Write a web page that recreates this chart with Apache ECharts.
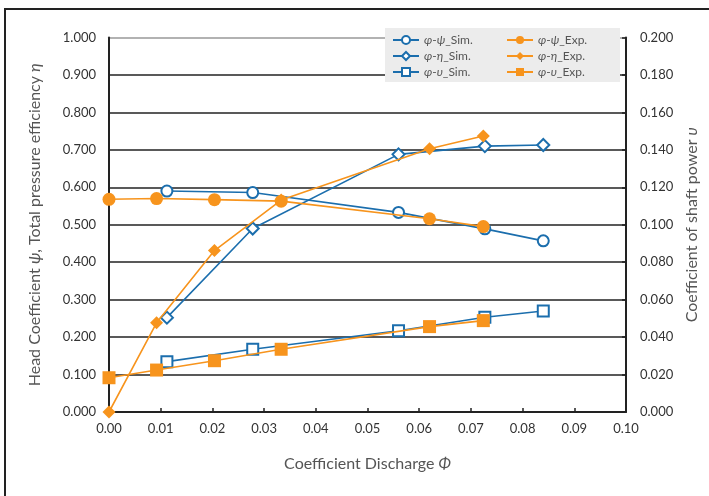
<!DOCTYPE html>
<html>
<head>
<meta charset="utf-8">
<script src="https://cdn.jsdelivr.net/npm/echarts@6/dist/echarts.min.js"></script>
<style>html,body{margin:0;padding:0;background:#fff}#c{width:709px;height:496px}</style>
</head>
<body>
<div id="c"></div>
<script>
// Simulation data
const simPhi = [0.0112, 0.0278, 0.0560, 0.0727, 0.0840];
const simPsi = [0.590, 0.586, 0.533, 0.489, 0.457];
const simEta = [0.252, 0.490, 0.688, 0.710, 0.713];
const simUps = [0.0269, 0.0335, 0.0434, 0.0506, 0.0539];
// Experimental data
const expPhi = [0.0000, 0.0092, 0.0204, 0.0333, 0.0620, 0.0724];
const expPsi = [0.568, 0.570, 0.567, 0.563, 0.516, 0.495];
const expEta = [0.000, 0.238, 0.431, 0.566, 0.703, 0.737];
const expUps = [0.0183, 0.0224, 0.0274, 0.0335, 0.0456, 0.0488];
// Names
const simNames = ['φ-ψ_Sim.', 'φ-η_Sim.', 'φ-υ_Sim.'];
const expNames = ['φ-ψ_Exp.', 'φ-η_Exp.', 'φ-υ_Exp.'];
const xTitle = '{n|Coefficient Discharge }{i|Φ}';
const yLeftTitle = '{n|Head Coefficient }{i|ψ}{n|, Total pressure efficiency }{i|η}';
const yRightTitle = '{n|Coefficient of shaft power }{i|υ}';

const BLUE = '#1b6ead';
const ORANGE = '#f7941d';
const FONT = 'Lato, "Noto Sans", "DejaVu Sans", sans-serif';

function pairs(xs, ys) { return xs.map((x, i) => [x, ys[i]]); }

function simSeries(name, xs, ys, sym, yIdx) {
  return {
    name, type: 'line', yAxisIndex: yIdx, data: pairs(xs, ys),
    symbol: sym, symbolSize: sym === 'emptyDiamond' ? 12 : 11,
    lineStyle: { color: BLUE, width: 1.6 },
    itemStyle: { color: BLUE, borderColor: BLUE, borderWidth: 1.6 },
    z: 3
  };
}
function expSeries(name, xs, ys, sym, yIdx) {
  return {
    name, type: 'line', yAxisIndex: yIdx, data: pairs(xs, ys),
    symbol: sym, symbolSize: 13,
    lineStyle: { color: ORANGE, width: 1.6 },
    itemStyle: { color: ORANGE, borderColor: ORANGE, borderWidth: 0 },
    z: 4
  };
}

const titleStyle = {
  color: '#555', fontSize: 16, fontFamily: FONT,
  rich: {
    n: { color: '#555', fontSize: 16, fontFamily: FONT },
    i: { color: '#555', fontSize: 16, fontFamily: FONT, fontStyle: 'italic' }
  }
};

function legendFmt(n) {
  const p = n.split('_');
  const g = p[0].split('-');
  return '{i|' + g[0] + '}{n|-}{i|' + g[1] + '}{n|_' + p[1] + '}';
}
function makeLegend(left, names) {
  return {
    orient: 'vertical', left: left, top: 34, padding: 0, itemGap: 4, z: 10,
    itemWidth: 26, itemHeight: 10, data: names,
    textStyle: {
      color: '#555', fontSize: 12, fontFamily: FONT,
      rich: {
        n: { color: '#555', fontSize: 12, fontFamily: FONT },
        i: { color: '#555', fontSize: 12, fontFamily: FONT, fontStyle: 'italic' }
      }
    },
    formatter: legendFmt
  };
}

const chart = echarts.init(document.getElementById('c'), null, { renderer: 'canvas' });
const gridColors = ['#222','#222','#222','#222','#222','#222','#222','#222','#222','#222','#999'];

chart.setOption({
  animation: false,
  textStyle: { fontFamily: FONT },
  graphic: [{
    type: 'rect', z: -10,
    shape: { x: 5, y: 9, width: 800, height: 600 },
    style: { fill: 'none', stroke: '#222', lineWidth: 2 }
  }, {
    type: 'rect', z: 8,
    shape: { x: 385, y: 28, width: 235, height: 54 },
    style: { fill: '#ececec' }
  }],
  grid: { left: 109, right: 83, top: 37.5, bottom: 84 },
  legend: [makeLegend(392, simNames), makeLegend(506, expNames)],
  xAxis: {
    type: 'value', min: 0, max: 0.1, interval: 0.01,
    name: xTitle, nameLocation: 'middle', nameGap: 44,
    nameTextStyle: titleStyle,
    axisLine: { show: true, lineStyle: { color: '#222', width: 2 } },
    axisTick: { show: true, inside: true, length: 4, lineStyle: { color: '#222', width: 1.5 } },
    axisLabel: { color: '#333', fontSize: 13, margin: 10, formatter: v => v.toFixed(2) },
    splitLine: { show: false }
  },
  yAxis: [{
    type: 'value', min: 0, max: 1, interval: 0.1,
    name: yLeftTitle, nameLocation: 'middle', nameGap: 66,
    nameTextStyle: titleStyle,
    axisLine: { show: true, lineStyle: { color: '#222', width: 2 } },
    axisTick: { show: false },
    axisLabel: { color: '#333', fontSize: 13, margin: 13, formatter: v => v.toFixed(3) },
    splitLine: { show: true, lineStyle: { color: gridColors, width: 1.6 } }
  }, {
    type: 'value', min: 0, max: 0.2, interval: 0.02, position: 'right',
    name: yRightTitle, nameLocation: 'middle', nameGap: 58,
    nameTextStyle: titleStyle,
    axisLine: { show: true, lineStyle: { color: '#222', width: 2 } },
    axisTick: { show: true, inside: true, length: 4, lineStyle: { color: '#222', width: 1.5 } },
    axisLabel: { color: '#333', fontSize: 13, margin: 14, formatter: v => v.toFixed(3) },
    splitLine: { show: false }
  }],
  series: [
    simSeries(simNames[0], simPhi, simPsi, 'emptyCircle', 0),
    simSeries(simNames[1], simPhi, simEta, 'emptyDiamond', 0),
    simSeries(simNames[2], simPhi, simUps, 'emptyRect', 1),
    expSeries(expNames[0], expPhi, expPsi, 'circle', 0),
    expSeries(expNames[1], expPhi, expEta, 'diamond', 0),
    expSeries(expNames[2], expPhi, expUps, 'rect', 1)
  ]
});
</script>
</body>
</html>
